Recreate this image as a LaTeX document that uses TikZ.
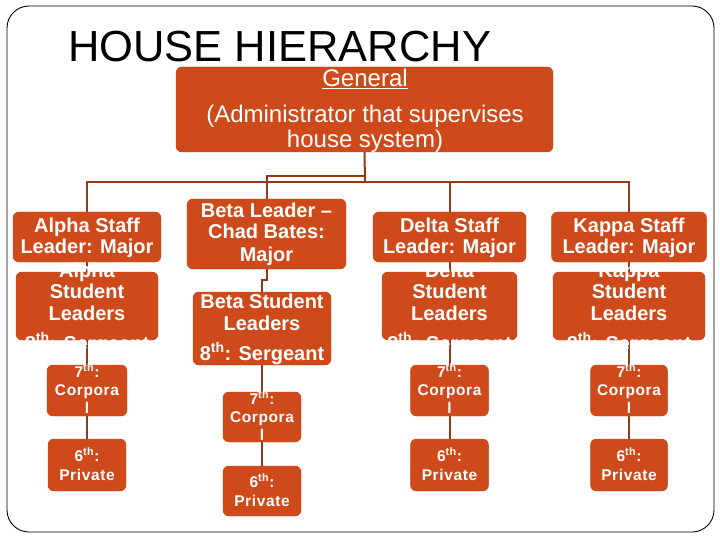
\documentclass[tikz,border=0pt]{standalone}
\usepackage{fontspec}
\setmainfont{Liberation Sans}
\newfontfamily\spaced[LetterSpace=4]{Liberation Sans}
\definecolor{boxc}{RGB}{206,74,27}
\definecolor{linec}{RGB}{142,59,30}
\begin{document}
\begin{tikzpicture}[x=1pt,y=-1pt,
  box/.style={fill=boxc, rounded corners=6pt, inner sep=0pt, draw=none},
  conn/.style={draw=linec, line width=2pt},
  txt/.style={text=white, inner sep=0pt, anchor=base, font=\bfseries\fontsize{20}{21}\selectfont},
  gtxt/.style={text=white, inner sep=0pt, anchor=base, font=\fontsize{24}{24}\selectfont},
  stxt/.style={text=white, inner sep=0pt, anchor=base, font=\spaced\bfseries\fontsize{15.5}{18}\selectfont}]
\useasboundingbox (0,0) rectangle (720,540);
\draw[black, line width=0.9pt, rounded corners=22pt] (7,6) rectangle (714,532);

% title
\node[anchor=base west, inner sep=0pt, font=\fontsize{43.5}{44}\selectfont] (title) at (68,62) {HOUSE HIERARCHY};

% boxes
\node[box, minimum width=377pt, minimum height=85pt] (gen) at (364.5,109.5) {};
\node[box, minimum width=148pt, minimum height=50pt] (aS) at (87,237) {};
\node[box, minimum width=142pt, minimum height=68pt] (aSt) at (87,306) {};
\node[box, minimum width=80pt, minimum height=51pt] (a7) at (87,390.5) {};
\node[box, minimum width=78pt, minimum height=52pt] (a6) at (87,465) {};

\node[box, minimum width=159pt, minimum height=70pt] (bL) at (266.5,234) {};
\node[box, minimum width=138pt, minimum height=73pt] (bSt) at (262,328.5) {};
\node[box, minimum width=78pt, minimum height=50pt] (b7) at (262,417) {};
\node[box, minimum width=78pt, minimum height=50pt] (b6) at (262,491) {};

\node[box, minimum width=153pt, minimum height=50pt] (dS) at (449.5,237) {};
\node[box, minimum width=135pt, minimum height=68pt] (dSt) at (449.5,306) {};
\node[box, minimum width=78pt, minimum height=51pt] (d7) at (449.5,390.5) {};
\node[box, minimum width=78pt, minimum height=52pt] (d6) at (449.5,465) {};

\node[box, minimum width=155pt, minimum height=50pt] (kS) at (629,237) {};
\node[box, minimum width=152pt, minimum height=68pt] (kSt) at (629,306) {};
\node[box, minimum width=77pt, minimum height=51pt] (k7) at (629,390.5) {};
\node[box, minimum width=77pt, minimum height=52pt] (k6) at (629,465) {};

% connectors
\coordinate (j0) at (365,176);
\coordinate (j1) at (365,182);
\coordinate (jb) at (262,280);
\draw[conn] (gen.south) -- (j1);
\draw[conn] (j0) -| (bL.north);
\draw[conn] (aS.north) |- (j1) -| (kS.north);
\draw[conn] (dS.north) -- (dS.north |- j1);
\draw[conn] (aS.south) -- (aSt.north);
\draw[conn] (dS.south) -- (dSt.north);
\draw[conn] (kS.south) -- (kSt.north);
\draw[conn] (bL.south) |- (jb) -- (bSt.north);
\draw[conn] (aSt.south) -- (a7.north);
\draw[conn] (bSt.south) -- (b7.north);
\draw[conn] (dSt.south) -- (d7.north);
\draw[conn] (kSt.south) -- (k7.north);
\draw[conn] (a7.south) -- (a6.north);
\draw[conn] (b7.south) -- (b6.north);
\draw[conn] (d7.south) -- (d6.north);
\draw[conn] (k7.south) -- (k6.north);

% redraw boxes over connector ends
\foreach \n in {gen,aS,aSt,a7,a6,bL,bSt,b7,b6,dS,dSt,d7,d6,kS,kSt,k7,k6}{
  \fill[boxc, rounded corners=6pt] (\n.north west) rectangle (\n.south east);
}

% texts
\node[gtxt] (g1) at (365,87) {\underline{General}};
\node[gtxt] (g2) at (365,123) {(Administrator that supervises};
\node[gtxt] (g3) at (365,148) {house system)};

\node[txt] (aS1) at (87,233) {Alpha Staff};
\node[txt] (aS2) at (87,254) {Leader: Major};
\node[txt] (aSt0) at (87,277) {Alpha};
\node[txt] (aSt1) at (87,298) {Student};
\node[txt] (aSt2) at (87,320) {Leaders};
\node[txt] (aSt3) at (87,350) {8\textsuperscript{th}: Sergeant};

\node[txt] (bL1) at (266.5,218) {Beta Leader --};
\node[txt] (bL2) at (266.5,239) {Chad Bates:};
\node[txt] (bL3) at (266.5,261) {Major};
\node[txt] (bSt1) at (262,308) {Beta Student};
\node[txt] (bSt2) at (262,330) {Leaders};
\node[txt] (bSt3) at (262,360) {8\textsuperscript{th}: Sergeant};

\node[txt] (dS1) at (449.5,233) {Delta Staff};
\node[txt] (dS2) at (449.5,254) {Leader: Major};
\node[txt] (dSt0) at (449.5,277) {Delta};
\node[txt] (dSt1) at (449.5,298) {Student};
\node[txt] (dSt2) at (449.5,320) {Leaders};
\node[txt] (dSt3) at (449.5,350) {8\textsuperscript{th}: Sergeant};

\node[txt] (kS1) at (629,233) {Kappa Staff};
\node[txt] (kS2) at (629,254) {Leader: Major};
\node[txt] (kSt0) at (629,277) {Kappa};
\node[txt] (kSt1) at (629,298) {Student};
\node[txt] (kSt2) at (629,320) {Leaders};
\node[txt] (kSt3) at (629,350) {8\textsuperscript{th}: Sergeant};

\foreach \c/\x/\y in {a/87/377, d/449.5/377, k/629/377, b/262/404}{
  \node[stxt] (\c71) at (\x,\y) {7\textsuperscript{th}:};
  \node[stxt] (\c72) at (\x,\y+18) {Corpora};
  \node[stxt] (\c73) at (\x,\y+36) {l};
}
\foreach \c/\x/\y in {a/87/461, d/449.5/461, k/629/461, b/262/487}{
  \node[stxt] (\c61) at (\x,\y) {6\textsuperscript{th}:};
  \node[stxt] (\c62) at (\x,\y+19) {Private};
}
\end{tikzpicture}
\end{document}
